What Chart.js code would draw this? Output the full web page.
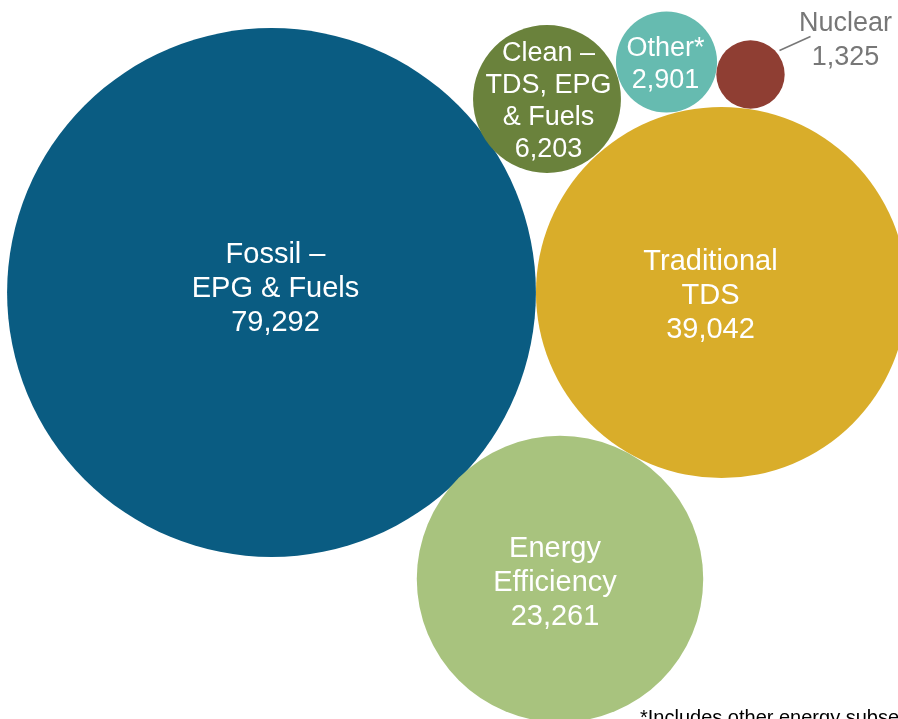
<!DOCTYPE html>
<html>
<head>
<meta charset="utf-8">
<script src="https://cdn.jsdelivr.net/npm/chart.js@4"></script>
<style>
  html, body { margin: 0; padding: 0; background: #ffffff; }
  #wrap { width: 898px; height: 719px; position: relative; }
</style>
</head>
<body>
<div id="wrap"><canvas id="bubbleChart"></canvas></div>
<script>
// カテゴリと値
const categories = ['Fossil – EPG & Fuels', 'Traditional TDS', 'Energy Efficiency', 'Clean – TDS, EPG & Fuels', 'Other*', 'Nuclear'];
const labelLines = [['Fossil –', 'EPG & Fuels'], ['Traditional', 'TDS'], ['Energy', 'Efficiency'], ['Clean –', 'TDS, EPG', '& Fuels'], ['Other*'], ['Nuclear']];
const values = [79292, 39042, 23261, 6203, 2901, 1325];

// バブルの配置（軸の単位）
const centerX = [271.5, 721.5, 560, 547, 666.5, 750.5];
const centerY = [292.5, 292.5, 579, 99, 62, 74.5];

// 見た目
const colors = ['#0a5c82', '#d9ad2a', '#a8c37e', '#6a823c', '#66bbb0', '#8f3e33'];
const fontSizes = [29, 29, 29, 27, 27, 27];
const lineHeights = [34, 34, 34, 32, 32, 34];
const labelDx = [4, -11, -5, 1.5, -1, 95];
const labelDy = [-4, 3, 4, 3, 3, -34];
const radiusScale = 0.939; // 半径 = k * sqrt(値)
const footnote = '*Includes other energy subsectors';

const fmt = v => v.toLocaleString('en-US');

// バブル半径ぶんの自動余白を無効化
Chart.BubbleController.prototype.getMaxOverflow = () => 0;

// ラベル描画プラグイン
const bubbleLabels = {
    id: 'bubbleLabels',
    afterDatasetsDraw(chart) {
        const ctx = chart.ctx;
        const meta = chart.getDatasetMeta(0);
        ctx.save();
        ctx.textAlign = 'center';
        ctx.textBaseline = 'middle';
        meta.data.forEach((pt, i) => {
            const lines = labelLines[i].concat([fmt(values[i])]);
            const lh = lineHeights[i];
            ctx.font = fontSizes[i] + 'px "Liberation Sans", Arial, sans-serif';
            const cx = pt.x + labelDx[i];
            const cy = pt.y + labelDy[i];
            if (categories[i] === 'Nuclear') {
                // 外側ラベルと引き出し線
                ctx.fillStyle = '#777777';
                ctx.strokeStyle = '#777777';
                ctx.lineWidth = 1.5;
                ctx.beginPath();
                ctx.moveTo(pt.x + 29, pt.y - 24);
                ctx.lineTo(pt.x + 60, pt.y - 38);
                ctx.stroke();
            } else {
                ctx.fillStyle = '#ffffff';
            }
            const top = cy - (lines.length - 1) * lh / 2;
            lines.forEach((t, j) => ctx.fillText(t, cx, top + j * lh));
        });
        // 脚注
        ctx.textAlign = 'left';
        ctx.textBaseline = 'alphabetic';
        ctx.fillStyle = '#000000';
        ctx.font = '20px "Liberation Sans", Arial, sans-serif';
        ctx.fillText(footnote, 640, 724);
        ctx.restore();
    }
};

const ctx = document.getElementById('bubbleChart').getContext('2d');
new Chart(ctx, {
    type: 'bubble',
    data: {
        labels: categories,
        datasets: [{
            data: values.map((v, i) => ({ x: centerX[i], y: centerY[i], r: radiusScale * Math.sqrt(v) })),
            backgroundColor: colors,
            borderWidth: 0,
            hoverBorderWidth: 0,
            hoverRadius: 0
        }]
    },
    options: {
        responsive: true,
        maintainAspectRatio: false,
        animation: false,
        layout: { padding: 0 },
        plugins: { legend: { display: false }, tooltip: { enabled: false } },
        scales: {
            x: { type: 'linear', min: 0, max: 898, display: false },
            y: { type: 'linear', min: 0, max: 719, reverse: true, display: false }
        }
    },
    plugins: [bubbleLabels]
});
</script>
</body>
</html>
